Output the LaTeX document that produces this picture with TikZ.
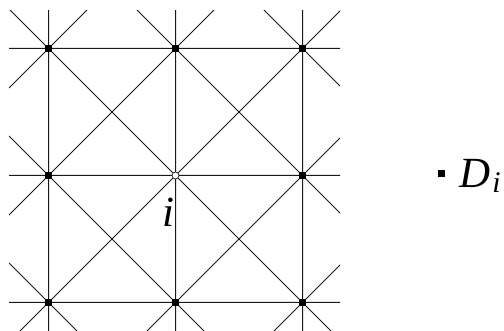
\documentclass[tikz,border=0pt]{standalone}
\usepackage{fontspec}
\setmainfont{Liberation Serif}
\usetikzlibrary{positioning, backgrounds}

\begin{document}
\begin{tikzpicture}[
    x=1pt, y=1pt,
    node distance=127pt,
    every node/.style={font=\fontsize{43}{48}\selectfont},
    main/.style={rectangle, fill=black, inner sep=0pt, minimum size=7pt},
    centre/.style={circle, draw, fill=white, line width=0.6pt, inner sep=0pt, minimum size=7pt},
    mesh/.style={line width=1pt, black!90}
]
\useasboundingbox (0,0) rectangle (504,331);

% Nodes
\node[main] (1) at (48.5,282.5) {};
\node[main, right of=1] (2) {};
\node[main, right of=2] (3) {};
\node[main, below of=1] (4) {};
\node[centre, right of=4] (5) {};
\node[main, right of=5] (6) {};
\node[main, below of=4] (7) {};
\node[main, right of=7] (8) {};
\node[main, right of=8] (9) {};

% Mesh lines
\begin{scope}[on background layer]
    \clip (9,-5) rectangle (340,320);
    \foreach \n in {1,...,9}
        \draw[mesh] (\n.center) +(-63.5,0) -- +(63.5,0)
                    (\n.center) +(0,-63.5) -- +(0,63.5)
                    (\n.center) +(-63.5,-63.5) -- +(63.5,63.5)
                    (\n.center) +(-63.5,63.5) -- +(63.5,-63.5);
\end{scope}

% Labels
\node[anchor=base, inner sep=0pt] (lbl) at (168,104) {\textit{i}};
\node[main] (key) at (441,157.5) {};
\node[anchor=base west, inner sep=0pt] (di) at (459,143)
    {\textit{D}\kern2pt\raisebox{-5pt}{\fontsize{30}{30}\selectfont\textit{i}}};

\end{tikzpicture}
\end{document}
